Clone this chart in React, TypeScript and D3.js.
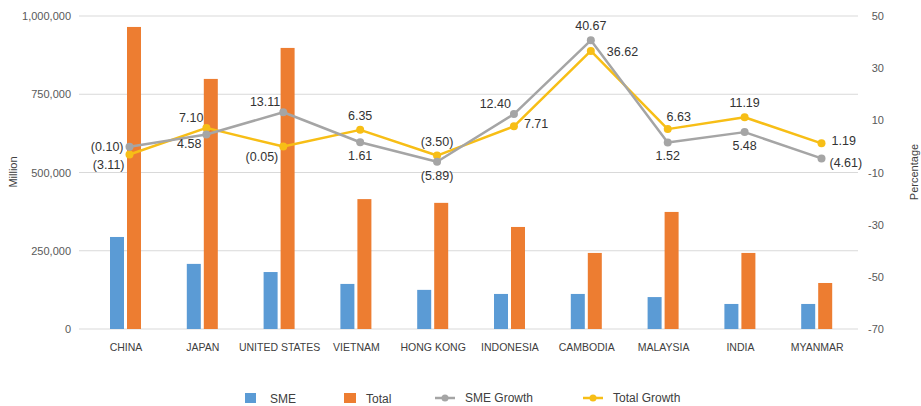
import React from "react";
import * as d3 from "d3";

const categories = [
  "CHINA",
  "JAPAN",
  "UNITED STATES",
  "VIETNAM",
  "HONG KONG",
  "INDONESIA",
  "CAMBODIA",
  "MALAYSIA",
  "INDIA",
  "MYANMAR",
];

// Millions
const smeValues = [294000, 208000, 182000, 144000, 125000, 112000, 112000, 102000, 80000, 80000];
const totalValues = [965000, 799000, 898000, 415000, 403000, 326000, 243000, 374000, 243000, 147000];

// Percentage
const smeGrowth = [-0.1, 4.58, 13.11, 1.61, -5.89, 12.4, 40.67, 1.52, 5.48, -4.61];
const totalGrowth = [-3.11, 7.1, -0.05, 6.35, -3.5, 7.71, 36.62, 6.63, 11.19, 1.19];

const leftTicks = [0, 250000, 500000, 750000, 1000000];
const rightTicks = [50, 30, 10, -10, -30, -50, -70];

// Where each data label sits relative to its point
const smeLabelPlace = ["left", "lowerLeft", "upperLeft", "below", "below", "upperLeft", "above", "below", "below", "lowerRight"];
const totalLabelPlace = ["lowerLeft", "upperLeft", "lowerLeft", "above", "above", "right", "farRight", "upperRight", "above", "right"];

const placements: Record<string, { anchor: string; dx: number; dy: number }> = {
  left: { anchor: "end", dx: -6, dy: 0 },
  lowerLeft: { anchor: "end", dx: -5, dy: 10 },
  upperLeft: { anchor: "end", dx: -3, dy: -10 },
  above: { anchor: "middle", dx: 0, dy: -14 },
  below: { anchor: "middle", dx: 0, dy: 14 },
  right: { anchor: "start", dx: 10, dy: -2 },
  lowerRight: { anchor: "start", dx: 8, dy: 5 },
  farRight: { anchor: "start", dx: 16, dy: 1 },
  upperRight: { anchor: "middle", dx: 11, dy: -12 },
};

const COLORS = {
  sme: "#5B9BD5",
  total: "#ED7D31",
  smeGrowth: "#A5A5A5",
  totalGrowth: "#F7BE16",
  grid: "#D9D9D9",
  axisText: "#595959",
  labelText: "#404040",
  dataText: "#333333",
};

const FONT = "'Liberation Sans', Arial, sans-serif";

const W = 921;
const H = 406;
const plotTop = 16;
const plotBottom = 329;
const gridLeft = 79;
const gridRight = 858;

const fmtLeft = d3.format(",");
const fmtPct = (v: number) => (v < 0 ? `(${Math.abs(v).toFixed(2)})` : v.toFixed(2));

export default function App() {
  const x = d3.scaleBand<string>().domain(categories).range([87.6, 855.6]);
  const xLine = d3.scalePoint<string>().domain(categories).range([129.5, 821.5]);
  const yLeft = d3.scaleLinear().domain([0, 1000000]).range([plotBottom, plotTop]);
  const yRight = d3.scaleLinear().domain([-70, 50]).range([plotBottom, plotTop]);

  const barW = 14;
  const cx = (c: string) => (x(c) ?? 0) + x.bandwidth() / 2;

  const line = d3
    .line<number>()
    .x((_, i) => xLine(categories[i]) ?? 0)
    .y((v) => yRight(v));

  const series = [
    { values: totalGrowth, color: COLORS.totalGrowth, places: totalLabelPlace },
    { values: smeGrowth, color: COLORS.smeGrowth, places: smeLabelPlace },
  ];

  return (
    <svg
      width={W}
      height={H}
      style={{ position: "absolute", left: 0, top: 0, background: "#fff" }}
      fontFamily={FONT}
    >
      {/* gridlines */}
      {leftTicks.map((t) => (
        <line
          key={t}
          x1={gridLeft}
          x2={gridRight}
          y1={yLeft(t)}
          y2={yLeft(t)}
          stroke={COLORS.grid}
          strokeWidth={1.2}
        />
      ))}

      {/* left axis */}
      {leftTicks.map((t) => (
        <text
          key={t}
          x={71}
          y={yLeft(t)}
          textAnchor="end"
          dominantBaseline="central"
          fontSize={11}
          fill={COLORS.axisText}
        >
          {fmtLeft(t)}
        </text>
      ))}
      <text
        transform={`translate(13, 172) rotate(-90)`}
        textAnchor="middle"
        dominantBaseline="central"
        fontSize={11}
        fill={COLORS.labelText}
      >
        Million
      </text>

      {/* right axis */}
      {rightTicks.map((t) => (
        <text
          key={t}
          x={884}
          y={yRight(t)}
          textAnchor="end"
          dominantBaseline="central"
          fontSize={11}
          fill={COLORS.axisText}
        >
          {String(t)}
        </text>
      ))}
      <text
        transform={`translate(914, 172) rotate(-90)`}
        textAnchor="middle"
        dominantBaseline="central"
        fontSize={11}
        fill={COLORS.labelText}
      >
        Percentage
      </text>

      {/* bars */}
      {categories.map((c, i) => (
        <g key={c}>
          <rect
            x={cx(c) - 16}
            y={yLeft(smeValues[i])}
            width={barW}
            height={plotBottom - yLeft(smeValues[i])}
            fill={COLORS.sme}
          />
          <rect
            x={cx(c) + 1}
            y={yLeft(totalValues[i])}
            width={barW}
            height={plotBottom - yLeft(totalValues[i])}
            fill={COLORS.total}
          />
        </g>
      ))}

      {/* category labels */}
      {categories.map((c) => (
        <text
          key={c}
          x={cx(c)}
          y={347}
          textAnchor="middle"
          dominantBaseline="central"
          fontSize={10.5}
          fill={COLORS.labelText}
        >
          {c}
        </text>
      ))}

      {/* growth lines */}
      {series.map((s, si) => (
        <g key={si}>
          <path d={line(s.values) ?? ""} fill="none" stroke={s.color} strokeWidth={2.5} strokeLinejoin="round" />
          {s.values.map((v, i) => (
            <circle key={i} cx={xLine(categories[i])} cy={yRight(v)} r={4} fill={s.color} />
          ))}
        </g>
      ))}

      {/* data labels */}
      {series.map((s, si) => (
        <g key={`lbl${si}`}>
          {s.values.map((v, i) => {
            const p = placements[s.places[i]];
            return (
              <text
                key={i}
                x={(xLine(categories[i]) ?? 0) + p.dx}
                y={yRight(v) + p.dy}
                textAnchor={p.anchor}
                dominantBaseline="central"
                fontSize={12.5}
                fill={COLORS.dataText}
              >
                {fmtPct(v)}
              </text>
            );
          })}
        </g>
      ))}

      {/* legend */}
      <g fontSize={12} fill={COLORS.labelText}>
        <rect x={245} y={393} width={11} height={10} fill={COLORS.sme} />
        <text x={270} y={399} dominantBaseline="central">SME</text>
        <rect x={344} y={393} width={12} height={10} fill={COLORS.total} />
        <text x={366} y={399} dominantBaseline="central">Total</text>
        <line x1={435} x2={455} y1={398} y2={398} stroke={COLORS.smeGrowth} strokeWidth={2.5} />
        <circle cx={445} cy={398} r={3.5} fill={COLORS.smeGrowth} />
        <text x={465} y={398} dominantBaseline="central">SME Growth</text>
        <line x1={583} x2={603} y1={398} y2={398} stroke={COLORS.totalGrowth} strokeWidth={2.5} />
        <circle cx={593} cy={398} r={3.5} fill={COLORS.totalGrowth} />
        <text x={613} y={398} dominantBaseline="central">Total Growth</text>
      </g>
    </svg>
  );
}
